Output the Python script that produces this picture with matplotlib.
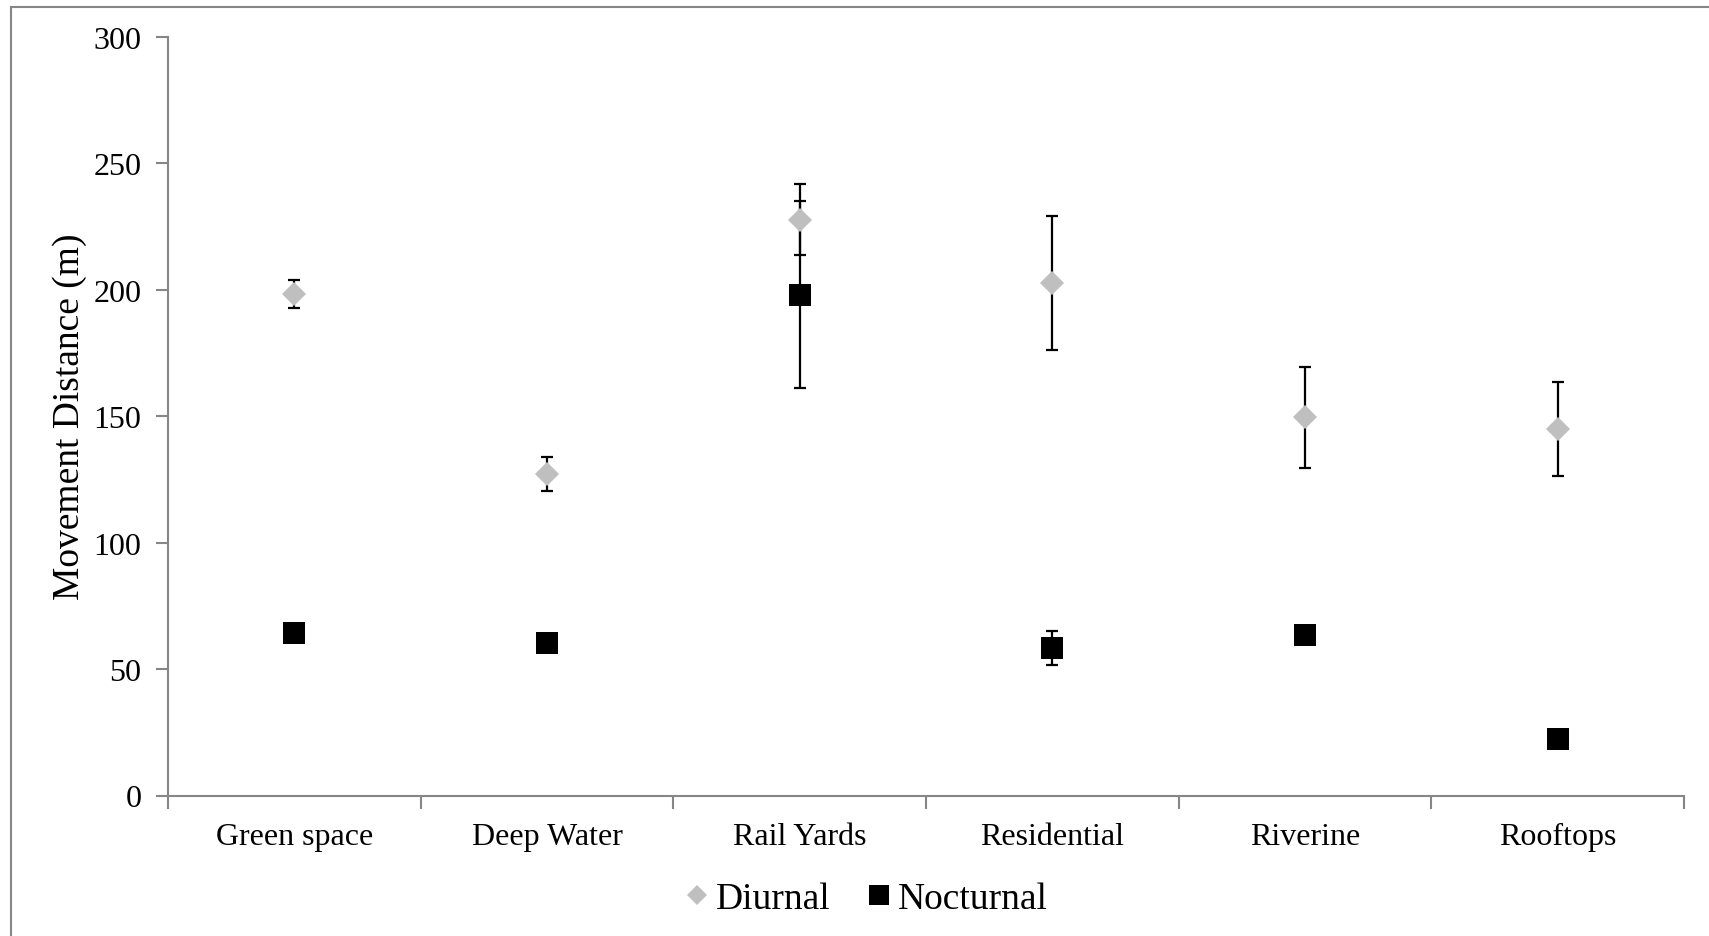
import matplotlib
matplotlib.use("Agg")
import matplotlib.pyplot as plt
from matplotlib.lines import Line2D
import numpy as np

categories = ["Green space", "Deep Water", "Rail Yards", "Residential", "Riverine", "Rooftops"]
diurnal = [198.4, 127.1, 227.8, 202.7, 149.6, 144.8]
diurnal_err = [5.4, 6.7, 14.0, 26.5, 20.0, 18.6]
nocturnal = [64.4, 60.5, 198.0, 58.4, 63.5, 22.5]
nocturnal_err = [0.0, 0.0, 37.0, 6.7, 2.5, 0.0]
yticks = [0, 50, 100, 150, 200, 250, 300]

plt.rcParams['font.family'] = ['Liberation Serif', 'DejaVu Serif']

W, H = 1709, 937
fig = plt.figure(figsize=(W / 100, H / 100), dpi=100)
ax = fig.add_axes([168 / W, 1 - 796.5 / H, (1684 - 168) / W, (796.5 - 38) / H])

x = np.arange(len(categories))
axis_col = "#868686"

# error bars (behind markers)
ax.errorbar(x, diurnal, yerr=diurnal_err, fmt="none", ecolor="black",
            elinewidth=1.6, capsize=4.5, capthick=1.6, zorder=2)
noc_x = [xi for xi, e in zip(x, nocturnal_err) if e > 0]
noc_y = [v for v, e in zip(nocturnal, nocturnal_err) if e > 0]
noc_e = [e for e in nocturnal_err if e > 0]
ax.errorbar(noc_x, noc_y, yerr=noc_e, fmt="none", ecolor="black",
            elinewidth=1.6, capsize=4.5, capthick=1.6, zorder=2)

ax.plot(x, diurnal, linestyle="none", marker="D", markersize=12,
        color="#BFBFBF", markeredgewidth=0, zorder=4)
ax.plot(x, nocturnal, linestyle="none", marker="s", markersize=15.5,
        color="black", markeredgewidth=0, zorder=3)

ax.set_xlim(-0.5, len(categories) - 0.5)
ax.set_ylim(0, 300)
ax.set_yticks(yticks)
ax.set_yticklabels([str(t) for t in yticks])
ax.set_xticks(x)
ax.set_xticklabels(categories)
ax.set_xticks(np.arange(-0.5, len(categories), 1.0), minor=True)

for s in ["top", "right"]:
    ax.spines[s].set_visible(False)
for s in ["left", "bottom"]:
    ax.spines[s].set_color(axis_col)
    ax.spines[s].set_linewidth(1.5)

ax.tick_params(axis="y", direction="out", length=9, width=1.5, color=axis_col,
               labelsize=23, pad=10)
ax.tick_params(axis="x", which="major", length=0, labelsize=23, pad=19)
ax.tick_params(axis="x", which="minor", direction="out", length=9, width=1.5,
               color=axis_col)

ax.set_ylabel("Movement Distance (m)", fontsize=27, labelpad=5)

handles = [
    Line2D([], [], linestyle="none", marker="D", markersize=10.5, color="#BFBFBF",
           markeredgewidth=0, label="Diurnal"),
    Line2D([], [], linestyle="none", marker="s", markersize=14, color="black",
           markeredgewidth=0, label="Nocturnal"),
]
fig.legend(handles=handles, loc="center", bbox_to_anchor=(867 / W, 1 - 900 / H),
           ncol=2, frameon=False, fontsize=27, handlelength=0.6,
           handletextpad=0.2, columnspacing=1.0)

# outer chart border (partially cut off at right/bottom)
fig.add_artist(Line2D([11 / W, 1.0], [1 - 8 / H, 1 - 8 / H], color=axis_col,
                      linewidth=1.5, transform=fig.transFigure))
fig.add_artist(Line2D([11 / W, 11 / W], [0.0, 1 - 8 / H], color=axis_col,
                      linewidth=1.5, transform=fig.transFigure))

fig.savefig("out.png", dpi=100)
